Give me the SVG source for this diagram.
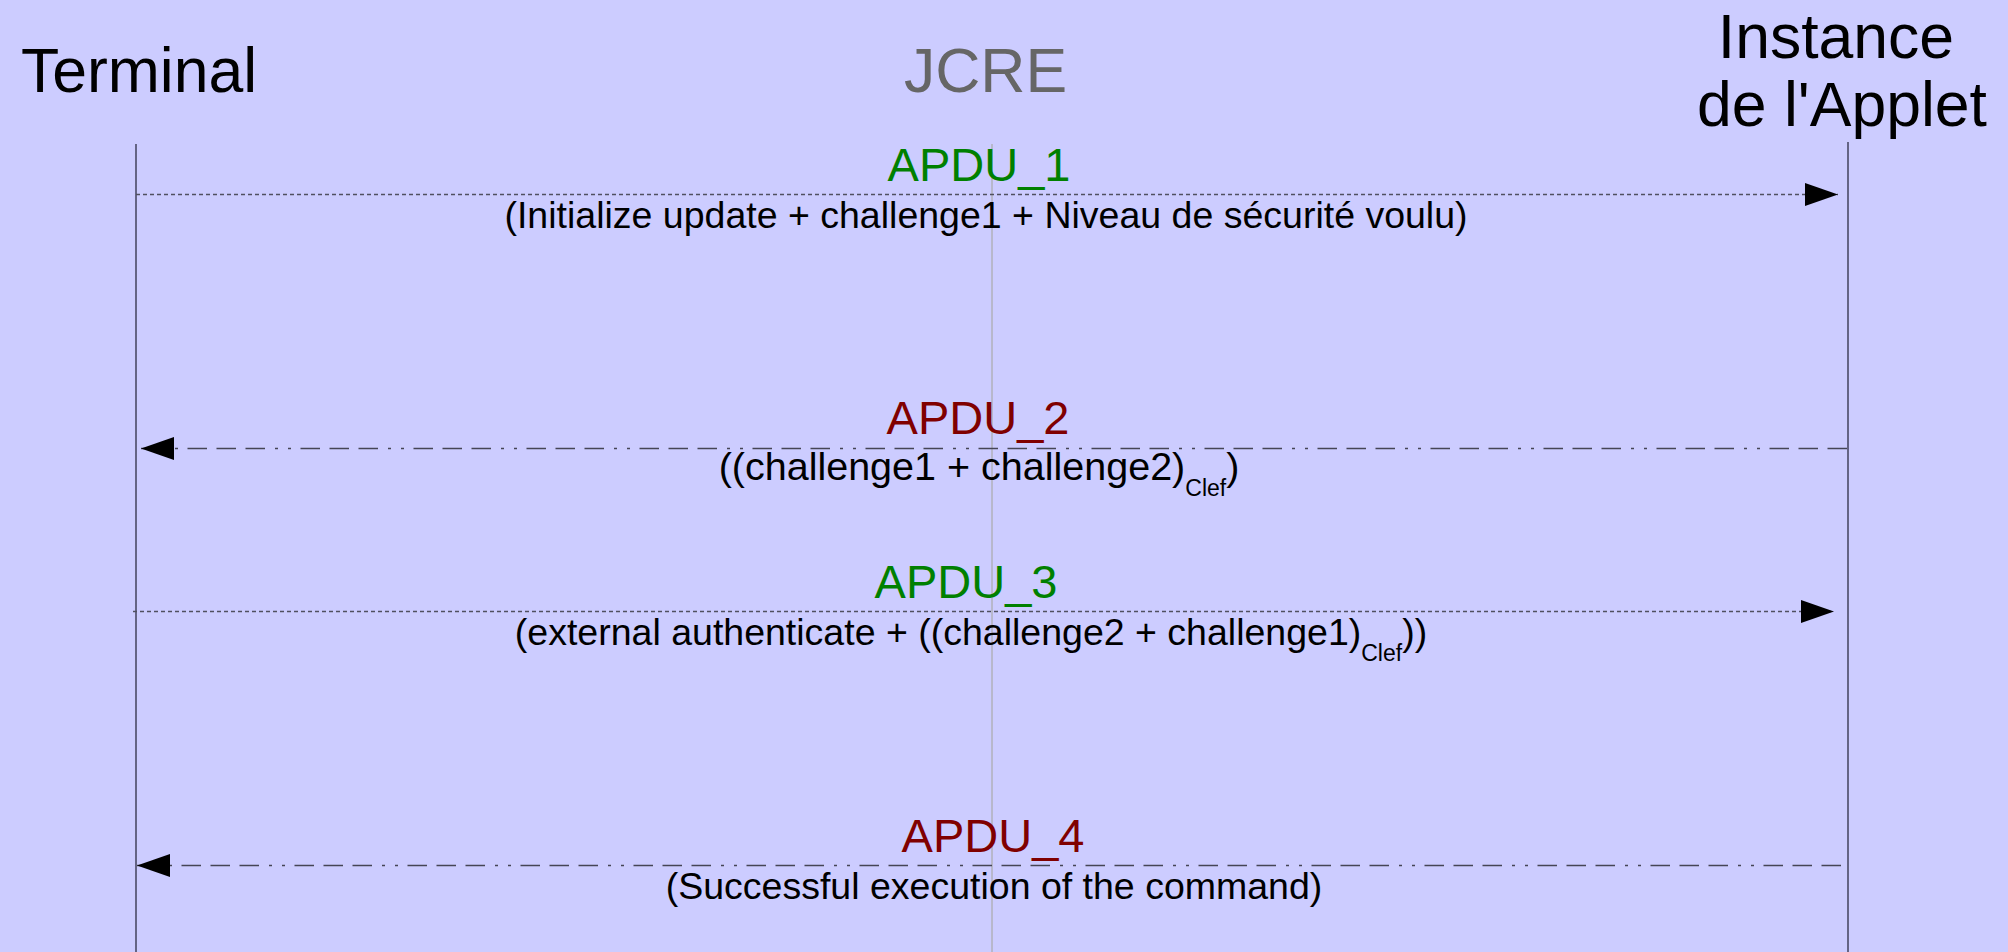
<svg xmlns="http://www.w3.org/2000/svg" width="2008" height="952" viewBox="0 0 2008 952">
<defs>
<style>
.hdr{font-family:"Liberation Sans",Arial,sans-serif;font-size:62.5px;text-anchor:middle}
.apdu{font-family:"Liberation Sans",Arial,sans-serif;font-size:47px;text-anchor:middle}
.lbl{font-family:"Liberation Sans",Arial,sans-serif;font-size:37.5px;text-anchor:middle;fill:#000}
.sub{font-size:23px}
.life{stroke:#4a4a66;stroke-width:1.6;fill:none}
.req{stroke:#505060;stroke-width:1.5;stroke-dasharray:4 3;fill:none}
.resp{stroke:#454555;stroke-width:1.5;stroke-dasharray:19.5 9.5 19.5 9.5 19.5 9.5 3 10 3 10;fill:none}
</style>
<marker id="ah" viewBox="0 0 33 23" refX="33" refY="11.5" markerWidth="33" markerHeight="23" markerUnits="userSpaceOnUse" orient="auto">
<path d="M0,0 L33,11.5 L0,23 Z" fill="#000"/>
</marker>
</defs>
<rect x="0" y="0" width="2008" height="952" fill="#ccccff"/>
<g id="terminal">
<text class="hdr" x="139" y="92" fill="#000">Terminal</text>
<line class="life" x1="136" y1="144" x2="136" y2="952"/>
</g>
<g id="jcre">
<text class="hdr" x="985.5" y="92" fill="#666666">JCRE</text>
<line x1="992" y1="144" x2="992" y2="952" stroke="#aaaaaa" stroke-width="1.2"/>
</g>
<g id="applet">
<text class="hdr" x="1836" y="58" fill="#000">Instance</text>
<text class="hdr" x="1842" y="126" fill="#000">de l'Applet</text>
<line class="life" x1="1848" y1="142" x2="1848" y2="952"/>
</g>
<g id="connectors">
<line class="req" x1="136" y1="194.5" x2="1838" y2="194.5" marker-end="url(#ah)"/>
<line class="resp" x1="1847" y1="448.5" x2="141" y2="448.5" marker-end="url(#ah)"/>
<line class="req" x1="133" y1="611.5" x2="1834" y2="611.5" marker-end="url(#ah)"/>
<line class="resp" x1="1841" y1="865.5" x2="137" y2="865.5" marker-end="url(#ah)"/>
</g>
<g id="msg1">
<text class="apdu" x="979" y="181" fill="#008000">APDU_1</text>
<text class="lbl" x="986" y="228">(Initialize update + challenge1 + Niveau de sécurité voulu)</text>
</g>
<g id="msg2">
<text class="apdu" x="978" y="434" fill="#800000">APDU_2</text>
<text class="lbl" x="979" y="480" style="font-size:39.5px">((challenge1 + challenge2)<tspan class="sub" dy="16">Clef</tspan><tspan dy="-16">)</tspan></text>
</g>
<g id="msg3">
<text class="apdu" x="966" y="598" fill="#008000">APDU_3</text>
<text class="lbl" x="971" y="645">(external authenticate + ((challenge2 + challenge1)<tspan class="sub" dy="16">Clef</tspan><tspan dy="-16">))</tspan></text>
</g>
<g id="msg4">
<text class="apdu" x="993" y="852" fill="#800000">APDU_4</text>
<text class="lbl" x="994" y="899">(Successful execution of the command)</text>
</g>
</svg>
